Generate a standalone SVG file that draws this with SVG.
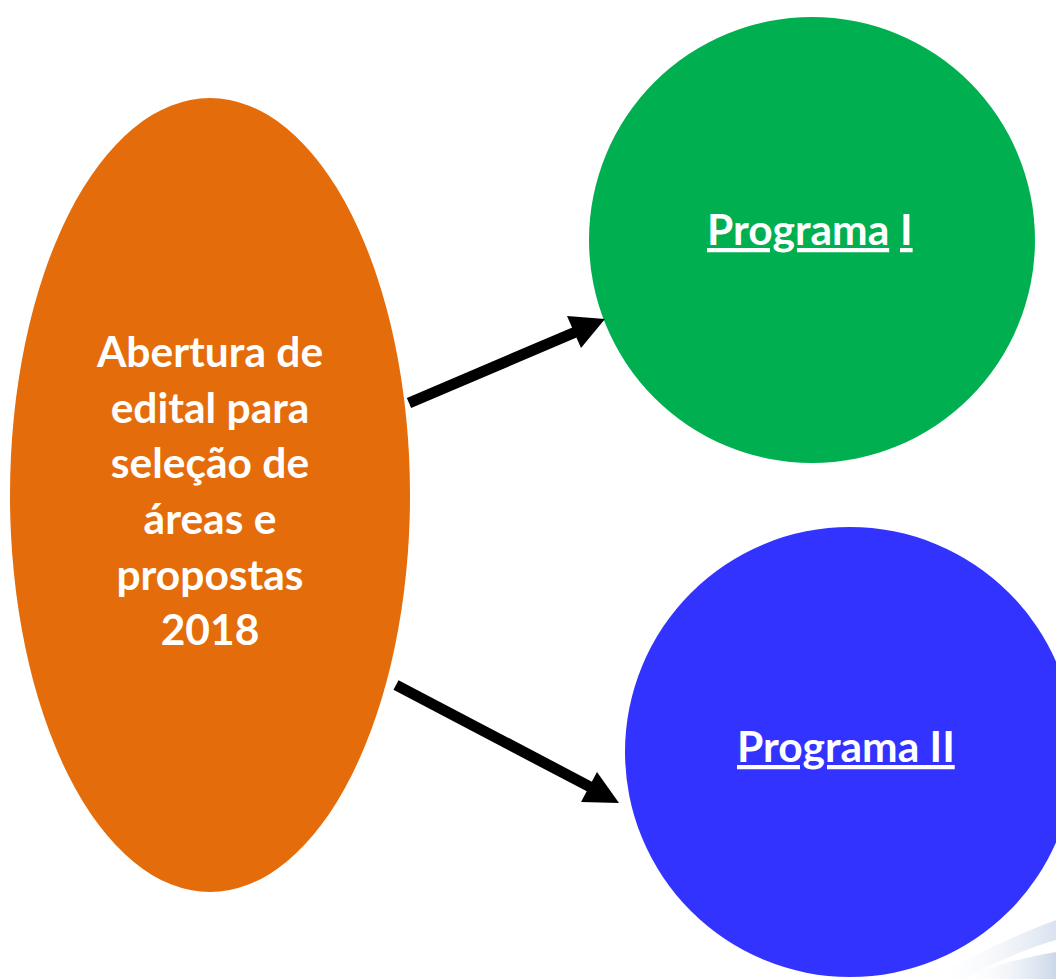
<svg xmlns="http://www.w3.org/2000/svg" width="1056" height="979" viewBox="0 0 1056 979">
<defs>
<style>
.t{font-family:Lato,"Open Sans","Liberation Sans",sans-serif;font-weight:bold;font-size:42.5px;fill:#ffffff;text-anchor:middle}
.u{font-family:Lato,"Open Sans","Liberation Sans",sans-serif;font-weight:bold;font-size:42.5px;fill:#ffffff;text-decoration:underline}
.shaft{stroke:#000;stroke-width:11;fill:none}
</style>
<linearGradient id="sw" x1="0" y1="0" x2="1" y2="0">
<stop offset="0" stop-color="#ffffff" stop-opacity="0"/>
<stop offset="1" stop-color="#b4c6e0"/>
</linearGradient>
</defs>
<rect width="1056" height="979" fill="#ffffff"/>
<g id="swoosh">
<path d="M930 979 C975 955 1015 935 1056 920 L1056 940 C1015 952 985 968 965 979 Z" fill="url(#sw)" opacity="0.5"/>
<path d="M960 979 C995 965 1025 957 1056 952 L1056 979 Z" fill="url(#sw)" opacity="0.7"/>
</g>
<g id="node-abertura">
<ellipse cx="210" cy="495" rx="200" ry="397" fill="#E46C0A"/>
<text class="t" x="210" y="367">Abertura de</text>
<text class="t" x="210" y="423">edital para</text>
<text class="t" x="210" y="478">seleção de</text>
<text class="t" x="210" y="534">áreas e</text>
<text class="t" x="210" y="590">propostas</text>
<text class="t" x="210" y="645">2018</text>
</g>
<g id="node-programa1">
<circle cx="812" cy="240" r="223" fill="#00B050"/>
<text class="u" x="707" y="245">Programa</text>
<text class="u" x="900" y="245">I</text>
</g>
<g id="node-programa2">
<circle cx="850" cy="752" r="225" fill="#3333FF"/>
<text class="u" x="737" y="762">Programa II</text>
</g>
<g id="connectors">
<line class="shaft" x1="409" y1="403" x2="578" y2="331"/>
<polygon points="567,316 605,319 581,348" fill="#000"/>
<line class="shaft" x1="396" y1="685" x2="596" y2="790"/>
<polygon points="597,772 581,802 619,803" fill="#000"/>
</g>
</svg>
